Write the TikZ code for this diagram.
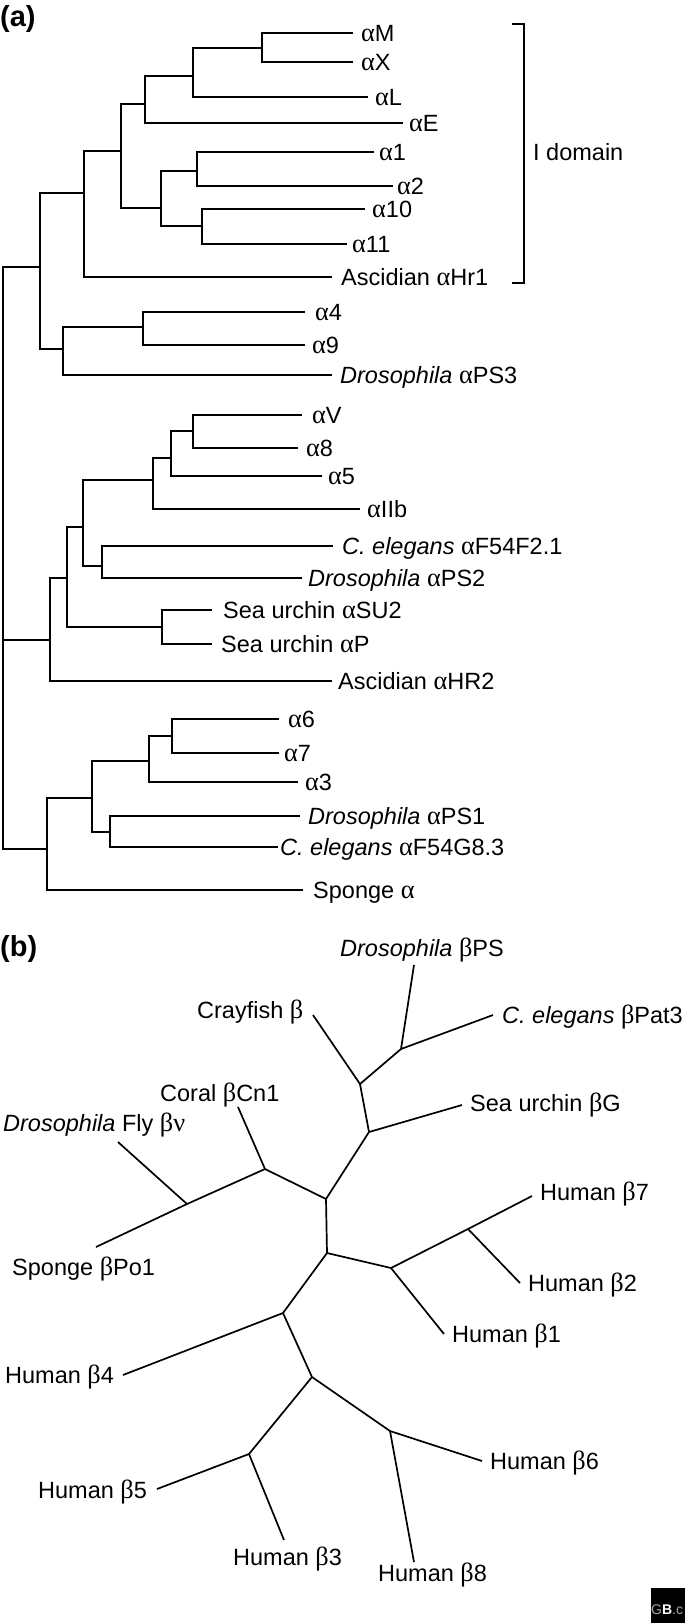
\documentclass[tikz,border=0pt]{standalone}
\usepackage{fontspec}
\setmainfont{Liberation Sans}
\newfontfamily\gkfont[Scale=1.12]{Liberation Serif}
\newcommand\myal{{\gkfont α}}
\newcommand\mybe{{\gkfont β}}
\newcommand\mynu{{\gkfont ν}}
\begin{document}
\begin{tikzpicture}[x=1pt,y=-1pt,
  edge/.style={line width=1.7pt, line join=miter},
  lbl/.style={anchor=base west, inner sep=0pt, font=\fontsize{23.5}{28}\selectfont},
  panel/.style={anchor=base west, inner sep=0pt, font=\fontsize{29}{34}\selectfont\bfseries}]
\useasboundingbox (0,0) rectangle (685,1623);

% ---------------- panel (a) ----------------
\node[panel] (pa) at (0,26) {(a)};

% leaf ends
\coordinate (lM) at (353,33);
\coordinate (lX) at (353,62);
\coordinate (lL) at (368,97);
\coordinate (lE) at (403,123);
\coordinate (l1) at (374,152);
\coordinate (l2) at (393,186);
\coordinate (l10) at (365,209);
\coordinate (l11) at (347,244);
\coordinate (lHr1) at (332,277);
\coordinate (l4) at (305,312);
\coordinate (l9) at (305,345);
\coordinate (lPS3) at (332,375);
\coordinate (lV) at (302,415);
\coordinate (l8) at (298,448);
\coordinate (l5) at (322,476);
\coordinate (lIIb) at (360,509);
\coordinate (lF2) at (333,546);
\coordinate (lPS2) at (302,578);
\coordinate (lSU2) at (212,610);
\coordinate (lP) at (212,644);
\coordinate (lHR2) at (332,681);
\coordinate (l6) at (279,719);
\coordinate (l7) at (279,753);
\coordinate (l3) at (298,782);
\coordinate (lPS1) at (300,816);
\coordinate (lG8) at (278,847);
\coordinate (lSp) at (303,890);

% internal nodes
\coordinate (nMX) at (262,48);
\coordinate (nMXL) at (193,76);
\coordinate (nMXLE) at (145,104);
\coordinate (n12) at (197,171);
\coordinate (n1011) at (202,226);
\coordinate (nA) at (161,208);
\coordinate (nI) at (121,151);
\coordinate (nIdom) at (84,193);
\coordinate (n49) at (143,327);
\coordinate (n49P) at (63,349);
\coordinate (nTop) at (40,267);
\coordinate (nV8) at (193,431);
\coordinate (nV85) at (171,458);
\coordinate (nV85I) at (153,480);
\coordinate (nCe) at (102,566);
\coordinate (nG1) at (83,527);
\coordinate (nSU) at (162,627);
\coordinate (nG2) at (67,578);
\coordinate (nMid) at (50,640);
\coordinate (n67) at (172,736);
\coordinate (n673) at (149,761);
\coordinate (nPS1) at (110,832);
\coordinate (nG3) at (92,798);
\coordinate (nBot) at (47,849);
\coordinate (root) at (3,640);

\begin{scope}[edge]
\draw (lM) -| (nMX) |- (lX);
\draw (nMX) -| (nMXL) |- (lL);
\draw (nMXL) -| (nMXLE) |- (lE);
\draw (l1) -| (n12) |- (l2);
\draw (l10) -| (n1011) |- (l11);
\draw (n12) -| (nA) |- (n1011);
\draw (nMXLE) -| (nI) |- (nA);
\draw (nI) -| (nIdom) |- (lHr1);
\draw (l4) -| (n49) |- (l9);
\draw (n49) -| (n49P) |- (lPS3);
\draw (nIdom) -| (nTop) |- (n49P);
\draw (lV) -| (nV8) |- (l8);
\draw (nV8) -| (nV85) |- (l5);
\draw (nV85) -| (nV85I) |- (lIIb);
\draw (lF2) -| (nCe) |- (lPS2);
\draw (nV85I) -| (nG1) |- (nCe);
\draw (lSU2) -| (nSU) |- (lP);
\draw (nG1) -| (nG2) |- (nSU);
\draw (nG2) -| (nMid) |- (lHR2);
\draw (l6) -| (n67) |- (l7);
\draw (n67) -| (n673) |- (l3);
\draw (lPS1) -| (nPS1) |- (lG8);
\draw (n673) -| (nG3) |- (nPS1);
\draw (nG3) -| (nBot) |- (lSp);
\draw (nTop) -| (root) |- (nBot);
\draw (root) -- (nMid);
% I domain bracket
\coordinate (bt) at (512,24);
\coordinate (bb) at (512,283);
\draw (bt) -- ++(12,0) |- (bb);
\end{scope}
\node[lbl] (tID) at (533,160.5) {I domain};

\node[lbl] (tM) at (361,41.5) {\myal M};
\node[lbl] (tX) at (361,70.5) {\myal X};
\node[lbl] (tL) at (375,105.5) {\myal L};
\node[lbl] (tE) at (409,131.5) {\myal E};
\node[lbl] (t1) at (379,160.5) {\myal 1};
\node[lbl] (t2) at (397,194.5) {\myal 2};
\node[lbl] (t10) at (372,217.5) {\myal 10};
\node[lbl] (t11) at (352,252.5) {\myal 11};
\node[lbl] (tHr1) at (341,285.5) {Ascidian \myal Hr1};
\node[lbl] (t4) at (315,320.5) {\myal 4};
\node[lbl] (t9) at (312,353.5) {\myal 9};
\node[lbl] (tPS3) at (340,383.5) {\textit{Drosophila} \myal PS3};
\node[lbl] (tV) at (312,423.5) {\myal V};
\node[lbl] (t8) at (306,456.5) {\myal 8};
\node[lbl] (t5) at (328,484.5) {\myal 5};
\node[lbl] (tIIb) at (367,517.5) {\myal IIb};
\node[lbl] (tF2) at (342,554.5) {\textit{C. elegans} \myal F54F2.1};
\node[lbl] (tPS2) at (308,586.5) {\textit{Drosophila} \myal PS2};
\node[lbl] (tSU2) at (223,618.5) {Sea urchin \myal SU2};
\node[lbl] (tP) at (221,652.5) {Sea urchin \myal P};
\node[lbl] (tHR2) at (338,689.5) {Ascidian \myal HR2};
\node[lbl] (t6) at (288,727.5) {\myal 6};
\node[lbl] (t7) at (284,761.5) {\myal 7};
\node[lbl] (t3) at (305,790.5) {\myal 3};
\node[lbl] (tPS1) at (308,824.5) {\textit{Drosophila} \myal PS1};
\node[lbl] (tG8) at (280,855.5) {\textit{C. elegans} \myal F54G8.3};
\node[lbl] (tSp) at (313,898.5) {Sponge \myal};

% ---------------- panel (b) ----------------
\node[panel] (pb) at (0,956) {(b)};

\coordinate (A) at (401,1049);
\coordinate (B) at (360,1084);
\coordinate (C) at (369,1132);
\coordinate (D) at (326,1199);
\coordinate (E) at (327,1253);
\coordinate (F) at (265,1169);
\coordinate (G) at (187,1204);
\coordinate (H) at (391,1268);
\coordinate (I) at (468,1229);
\coordinate (J) at (283,1313);
\coordinate (K) at (312,1377);
\coordinate (M) at (390,1431);
\coordinate (N) at (249,1454);

\coordinate (eDPS) at (414,965);
\coordinate (ePat) at (493,1015);
\coordinate (eCray) at (313,1015);
\coordinate (eSeaG) at (462,1105);
\coordinate (eCoral) at (238,1107);
\coordinate (eFly) at (118,1142);
\coordinate (ePo1) at (96,1247);
\coordinate (e7) at (532,1196);
\coordinate (e2) at (520,1283);
\coordinate (e1) at (444,1334);
\coordinate (e4) at (123,1375);
\coordinate (e6) at (482,1461);
\coordinate (e8) at (414,1562);
\coordinate (e5) at (157,1489);
\coordinate (e3) at (284,1540);

\begin{scope}[edge]
\draw (eDPS) -- (A) -- (ePat);
\draw (A) -- (B) -- (eCray);
\draw (B) -- (C) -- (eSeaG);
\draw (C) -- (D) -- (F) -- (eCoral);
\draw (F) -- (G) -- (eFly);
\draw (G) -- (ePo1);
\draw (D) -- (E) -- (H) -- (I) -- (e7);
\draw (I) -- (e2);
\draw (H) -- (e1);
\draw (E) -- (J) -- (e4);
\draw (J) -- (K) -- (M) -- (e6);
\draw (M) -- (e8);
\draw (K) -- (N) -- (e5);
\draw (N) -- (e3);
\end{scope}

\node[lbl] (bDPS) at (340,956.5) {\textit{Drosophila} \mybe PS};
\node[lbl] (bPat) at (502,1023.5) {\textit{C. elegans} \mybe Pat3};
\node[lbl] (bCray) at (197,1018.5) {Crayfish \mybe};
\node[lbl] (bSeaG) at (470,1111.5) {Sea urchin \mybe G};
\node[lbl] (bCoral) at (160,1101.5) {Coral \mybe Cn1};
\node[lbl] (bFly) at (3,1131.5) {\textit{Drosophila} Fly \mybe\mynu};
\node[lbl] (bPo1) at (12,1275.5) {Sponge \mybe Po1};
\node[lbl] (b7) at (540,1200.5) {Human \mybe 7};
\node[lbl] (b2) at (528,1291.5) {Human \mybe 2};
\node[lbl] (b1) at (452,1342.5) {Human \mybe 1};
\node[lbl] (b4) at (5,1383.5) {Human \mybe 4};
\node[lbl] (b6) at (490,1469.5) {Human \mybe 6};
\node[lbl] (b8) at (378,1581.5) {Human \mybe 8};
\node[lbl] (b5) at (38,1498.5) {Human \mybe 5};
\node[lbl] (b3) at (233,1565.5) {Human \mybe 3};

% logo corner
\fill[black] (651,1588) rectangle (685,1623);
\begin{scope}
\clip (651,1588) rectangle (685,1623);
\node[anchor=base west, inner sep=0pt, text=white, font=\fontsize{14}{16}\selectfont] (logo) at (651,1614) {{\color{gray!70}G}\textbf{B}{\color{gray!70}.c}};
\end{scope}
\end{tikzpicture}
\end{document}
